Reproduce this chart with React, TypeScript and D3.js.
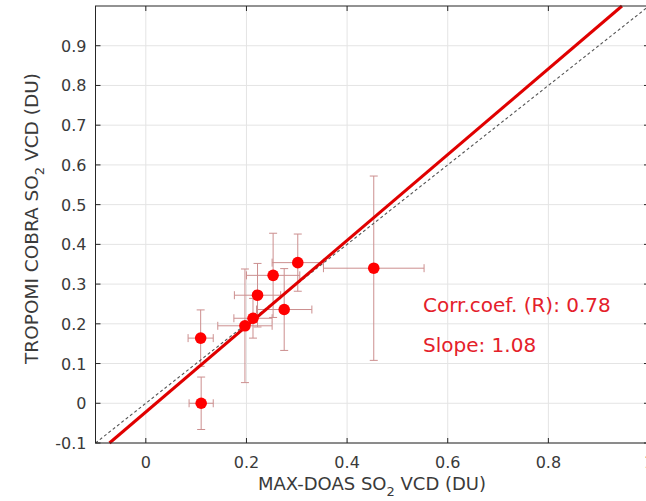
import React from 'react';
import * as d3 from 'd3';

const width = 646;
const height = 501;

// MAX-DOAS vs TROPOMI COBRA SO2 VCD (DU)
const maxDoas = [0.109, 0.11, 0.197, 0.213, 0.222, 0.253, 0.275, 0.302, 0.453];
const tropomi = [0.164, 0.0, 0.195, 0.214, 0.272, 0.322, 0.236, 0.354, 0.34];
const xErr = [0.025, 0.024, 0.054, 0.038, 0.046, 0.053, 0.055, 0.051, 0.1];
const yErr = [0.071, 0.066, 0.143, 0.05, 0.08, 0.106, 0.103, 0.072, 0.232];

const xTicks = [0, 0.2, 0.4, 0.6, 0.8, 1];
const yTicks = [-0.1, 0, 0.1, 0.2, 0.3, 0.4, 0.5, 0.6, 0.7, 0.8, 0.9];

const slope = 1.08;
const intercept = -0.022;
const corr = 0.78;

export default function App() {
  // the figure is cropped on the right: x = 1 sits just past the edge
  const x = d3.scaleLinear().domain([-0.1, 1.0]).range([95.5, 649]);
  const y = d3.scaleLinear().domain([-0.1, 1.0]).range([443, 6]);

  const [x0, x1] = x.range();
  const [y0, y1] = y.range();

  const line = d3.line<[number, number]>()
    .x(d => x(d[0]))
    .y(d => y(d[1]));

  const fitStart = (-0.1 - intercept) / slope;
  const fitEnd = (1.0 - intercept) / slope;
  const fit: [number, number][] = [[fitStart, -0.1], [fitEnd, 1.0]];
  const oneToOne: [number, number][] = [[-0.1, -0.1], [1.0, 1.0]];

  const axisColor = '#262626';
  const textColor = '#3a3a3a';
  const errColor = '#cc8f8f';
  const cap = 4;
  const font = 'DejaVu Sans, sans-serif';
  const fmtY = (t: number) => (t === 0 ? '0' : t.toFixed(1));

  return (
    <svg width={width} height={height} style={{ position: 'absolute', left: 0, top: 0, background: '#fff' }}>
      <rect x={0} y={0} width={width} height={height} fill="#fff" />
      {/* grid */}
      <g stroke="#e4e4e4" strokeWidth={1}>
        {xTicks.map(t => <line key={'gx' + t} x1={x(t)} x2={x(t)} y1={y0} y2={y1} />)}
        {yTicks.map(t => <line key={'gy' + t} x1={x0} x2={x1} y1={y(t)} y2={y(t)} />)}
      </g>

      {/* error bars */}
      <g stroke={errColor} strokeWidth={1} fill="none">
        {maxDoas.map((v, i) => {
          const cx = x(v);
          const cy = y(tropomi[i]);
          const yt = y(tropomi[i] + yErr[i]);
          const yb = y(tropomi[i] - yErr[i]);
          const xl = x(v - xErr[i]);
          const xr = x(v + xErr[i]);
          return (
            <g key={'e' + i}>
              <line x1={cx} x2={cx} y1={yt} y2={yb} />
              <line x1={cx - cap} x2={cx + cap} y1={yt} y2={yt} />
              <line x1={cx - cap} x2={cx + cap} y1={yb} y2={yb} />
              <line x1={xl} x2={xr} y1={cy} y2={cy} />
              <line x1={xl} x2={xl} y1={cy - cap} y2={cy + cap} />
              <line x1={xr} x2={xr} y1={cy - cap} y2={cy + cap} />
            </g>
          );
        })}
      </g>

      {/* 1:1 line */}
      <path d={line(oneToOne) || ''} stroke="#555" strokeWidth={1.1} strokeDasharray="3,2.5" fill="none" />
      {/* fit line */}
      <path d={line(fit) || ''} stroke="#e00000" strokeWidth={3} fill="none" />

      {/* points */}
      <g fill="#ff0000">
        {maxDoas.map((v, i) => <circle key={'p' + i} cx={x(v)} cy={y(tropomi[i])} r={5.8} />)}
      </g>

      {/* box and ticks */}
      <rect x={x0} y={y1} width={x1 - x0} height={y0 - y1} fill="none" stroke={axisColor} strokeWidth={1} />
      <g stroke={axisColor} strokeWidth={1}>
        {xTicks.map(t => (
          <g key={'tx' + t}>
            <line x1={x(t)} x2={x(t)} y1={y0} y2={y0 - 5} />
            <line x1={x(t)} x2={x(t)} y1={y1} y2={y1 + 5} />
          </g>
        ))}
        {yTicks.map(t => (
          <g key={'ty' + t}>
            <line x1={x0} x2={x0 + 5} y1={y(t)} y2={y(t)} />
            <line x1={x1} x2={x1 - 5} y1={y(t)} y2={y(t)} />
          </g>
        ))}
      </g>

      {/* tick labels */}
      <g fontFamily={font} fontSize={16} fill={textColor}>
        {xTicks.map(t => (
          <text key={'lx' + t} x={x(t)} y={y0 + 25} textAnchor="middle">{d3.format('~g')(t)}</text>
        ))}
        {yTicks.map(t => (
          <text key={'ly' + t} x={x0 - 9} y={y(t) + 6} textAnchor="end">{fmtY(t)}</text>
        ))}
      </g>

      {/* axis titles */}
      <text x={372} y={490} textAnchor="middle" fontFamily={font} fontSize={18} fill={textColor}>
        MAX-DOAS SO<tspan dy={6} fontSize={13}>2</tspan><tspan dy={-6}> VCD (DU)</tspan>
      </text>
      <text transform={`translate(37.5,${(y0 + y1) / 2 - 6}) rotate(-90)`} textAnchor="middle" fontFamily={font} fontSize={18.5} fill={textColor}>
        TROPOMI COBRA SO<tspan dy={6} fontSize={13}>2</tspan><tspan dy={-6}> VCD (DU)</tspan>
      </text>

      {/* stats */}
      <g fontFamily={font} fontSize={20} fill="#e4202a">
        <text x={423} y={312}>Corr.coef. (R): {corr.toFixed(2)}</text>
        <text x={423} y={352}>Slope: {slope.toFixed(2)}</text>
      </g>
    </svg>
  );
}
